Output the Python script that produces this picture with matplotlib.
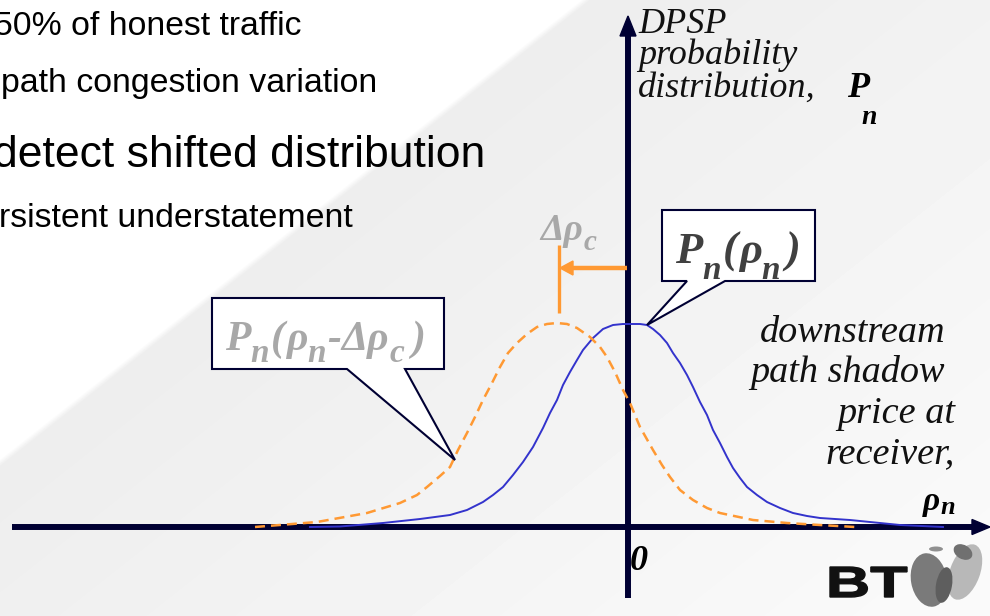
import numpy as np
import matplotlib
matplotlib.use("Agg")
import matplotlib.pyplot as plt
from matplotlib.patches import Polygon, PathPatch, Ellipse
from matplotlib.textpath import TextPath
from matplotlib.font_manager import FontProperties
from matplotlib.transforms import Affine2D

# ---------------- data (arbitrary units) ----------------
rho_blue = [-318, -288, -245, -208, -178, -161, -145, -135, -125, -115, -105, -95, -85,
            -78, -71, -65, -58, -51, -45, -35, -25, -15, -5, 2, 12, 19, 25, 32, 39, 45,
            52, 59, 65, 72, 79, 85, 92, 99, 105, 112, 119, 129, 139, 152, 165, 179, 192,
            222, 272, 315]
p_blue = [0, 0.5, 4, 8, 12, 17, 25, 32, 40, 52, 65, 80, 99, 114, 127, 142, 155, 167, 177,
          189, 198, 202, 203, 203, 203, 202, 198, 192, 184, 174, 164, 152, 140, 125, 112,
          97, 84, 70, 59, 49, 40, 32, 25, 19, 14, 11, 9, 7, 2, 0]

rho_orange = [-373, -311, -261, -228, -211, -201, -188, -178, -170, -161, -153, -145, -136,
              -128, -120, -111, -101, -91, -81, -71, -61, -51, -38, -28, -21, -13, -5, 2,
              12, 25, 34, 42, 52, 65, 79, 92, 125, 159, 192, 227]
p_orange = [0, 5, 14, 24, 32, 40, 51, 60, 77, 94, 110, 127, 144, 160, 174, 184, 193, 200,
            203, 204, 203, 199, 190, 180, 170, 155, 137, 124, 100, 77, 62, 50, 37, 27, 19,
            14, 7, 4, 2, 0]

delta_rho_c = 69

bullet_lines = ["50% of honest traffic", "path congestion variation",
                "detect shifted distribution", "rsistent understatement"]
y_label_lines = ["DPSP", "probability", "distribution,"]
x_label_lines = ["downstream", "path shadow", "price at", "receiver,"]
origin_label = "0"

# ---------------- figure ----------------
W, H = 990, 616
X0, Y0 = 628, 527          # pixel position of the origin
NAVY = "#000033"
ORANGE = "#FF9933"
BLUE = "#3333CC"
LGRAY = "#A8A8A8"
DGRAY = "#404040"
SERIF = "Liberation Serif"
SANS = "Liberation Sans"

fig = plt.figure(figsize=(W / 100, H / 100), dpi=100)
ax = fig.add_axes([0, 0, 1, 1])
ax.set_xlim(-X0, W - X0)
ax.set_ylim(Y0 - H, Y0)
ax.axis("off")


def dx(px):
    return px - X0


def dy(py):
    return Y0 - py


# background: white with light grey diagonal gradient
yy, xx = np.mgrid[0:H, 0:W]
d = (0.79 * xx + yy - 458) / 1.274
edge = np.clip(d / 6.0, 0, 1)
val = 1.0 - edge * (1.0 - (0.93 + 0.05 * np.clip(d / 700, 0, 1)))
ax.imshow(val, extent=(-X0, W - X0, Y0 - H, Y0), origin="upper", cmap="gray",
          vmin=0, vmax=1, aspect="auto", interpolation="bilinear", zorder=0)

renderer = fig.canvas.get_renderer()


def chain(x_px, base_py, parts, color):
    x = dx(x_px)
    for s, size, weight, style, drop, gap in parts:
        x += gap
        t = ax.text(x, dy(base_py + drop), s, fontsize=size, fontweight=weight,
                    fontstyle=style, family=SERIF, color=color, ha="left",
                    va="baseline", zorder=6)
        x += t.get_window_extent(renderer).width
    return x


# bullet text (top-left, partly cut off by the left edge as in the slide)
bullet_right = [302, 377, 485, 353]
bullet_base = [35, 92, 167, 227]
bullet_size = [24.3, 24.4, 32, 24.4]
for s, r, b, fs in zip(bullet_lines, bullet_right, bullet_base, bullet_size):
    ax.text(dx(r), dy(b), s, ha="right", va="baseline", fontsize=fs, family=SANS,
            color="black", zorder=5)

# axes with arrows
ax.plot([dx(12), dx(975)], [0, 0], color=NAVY, lw=4.3, solid_capstyle="butt", zorder=3)
ax.add_patch(Polygon([(dx(972), 7.5), (dx(990), 0), (dx(972), -7.5)], closed=True,
                     color=NAVY, zorder=3))
ax.plot([0, 0], [dy(598), dy(33)], color=NAVY, lw=4.3, solid_capstyle="butt", zorder=3)
ax.add_patch(Polygon([(-8, dy(36)), (0, dy(16)), (8, dy(36))], closed=True,
                     color=NAVY, zorder=3))

# distributions
ax.plot(rho_blue, p_blue, color=BLUE, lw=1.4, zorder=4)
ax.plot(rho_orange, p_orange, color=ORANGE, lw=1.8, dashes=(4, 2.4), zorder=4)

# delta rho_c marker
ax.plot([-delta_rho_c, -delta_rho_c], [dy(313), dy(245)], color=ORANGE, lw=2.4,
        solid_capstyle="butt", zorder=4)
ay = dy(268)
ax.plot([-1, -delta_rho_c + 12], [ay, ay], color=ORANGE, lw=3.2,
        solid_capstyle="butt", zorder=4)
ax.add_patch(Polygon([(-delta_rho_c + 1, ay), (-delta_rho_c + 14, ay + 7),
                      (-delta_rho_c + 14, ay - 7)], closed=True, color=ORANGE, zorder=4))

# callouts
left_call = [(212, 298), (444, 298), (444, 369), (405, 369), (455, 460), (347, 369),
             (212, 369)]
right_call = [(662, 210), (815, 210), (815, 281), (725, 281), (647, 325), (687, 281),
              (662, 281)]
for pts in (left_call, right_call):
    ax.add_patch(Polygon([(dx(a), dy(b)) for a, b in pts], closed=True, facecolor="white",
                         edgecolor=NAVY, lw=1.5, zorder=5))

BI = ("bold", "italic")
chain(225, 350, [("P", 30, *BI, 0, 0), ("n", 24, *BI, 12, 0), ("(", 30, *BI, 0, 2),
                 ("\u03c1", 30, *BI, 0, 1), ("n", 24, *BI, 12, 0), ("-", 30, *BI, 0, 1),
                 ("\u0394\u03c1", 30, *BI, 0, 1), ("c", 24, *BI, 12, 0),
                 (")", 30, *BI, 0, 7)], LGRAY)
chain(675, 263, [("P", 32, *BI, 0, 0), ("n", 24, *BI, 16, 0), ("(", 32, *BI, 0, 2),
                 ("\u03c1", 32, *BI, 0, 1), ("n", 24, *BI, 16, 0),
                 (")", 32, *BI, 0, 5)], DGRAY)
chain(540, 240, [("\u0394\u03c1", 27, *BI, 0, 0), ("c", 21, *BI, 10, 1)], LGRAY)

# y-axis label
for s, b in zip(y_label_lines, [33, 64, 97]):
    ax.text(dx(638), dy(b), s, fontsize=26, fontstyle="italic", family=SERIF,
            color="#111111", ha="left", va="baseline", zorder=6)
chain(847, 97, [("P", 26, *BI, 0, 0), ("n", 20, *BI, 27, -8)], "black")

# x-axis label
for s, r, b in zip(x_label_lines, [945, 945, 955, 955], [342, 382, 423, 463]):
    ax.text(dx(r), dy(b), s, fontsize=27.5, fontstyle="italic", family=SERIF,
            color="#111111", ha="right", va="baseline", zorder=6)
chain(923, 510, [("\u03c1", 24, *BI, 0, 0), ("n", 19, *BI, 4, 0)], "black")

# origin
ax.text(dx(630), dy(570), origin_label, fontsize=26, fontweight="bold",
        fontstyle="italic", family=SERIF, color="black", ha="left", va="baseline",
        zorder=6)

# BT logo
tp = TextPath((0, 0), "BT", prop=FontProperties(family=SANS, weight="bold"), size=30)
ext = tp.get_extents()
tr = Affine2D().translate(-ext.x0, -ext.y0).scale(77 / ext.width, 30 / ext.height) \
    .translate(dx(830), dy(597)) + ax.transData
ax.add_patch(PathPatch(tp, transform=tr, facecolor="#111111", edgecolor="#111111",
                       lw=1.0, zorder=6))
ax.add_patch(Ellipse((dx(965), dy(572)), 30, 58, angle=-20, facecolor="#B8B8B8",
                     edgecolor="none", zorder=6))
ax.add_patch(Ellipse((dx(963), dy(552)), 20, 14, angle=-30, facecolor="#707070",
                     edgecolor="none", zorder=6))
ax.add_patch(Ellipse((dx(929), dy(580)), 36, 54, angle=10, facecolor="#7A7A7A",
                     edgecolor="none", zorder=7))
ax.add_patch(Ellipse((dx(944), dy(585)), 16, 36, angle=-10, facecolor="#5E5E5E",
                     edgecolor="none", zorder=7))
ax.add_patch(Ellipse((dx(936), dy(549)), 14, 5, angle=0, facecolor="#909090",
                     edgecolor="none", zorder=7))

fig.savefig("out.png", dpi=100)
